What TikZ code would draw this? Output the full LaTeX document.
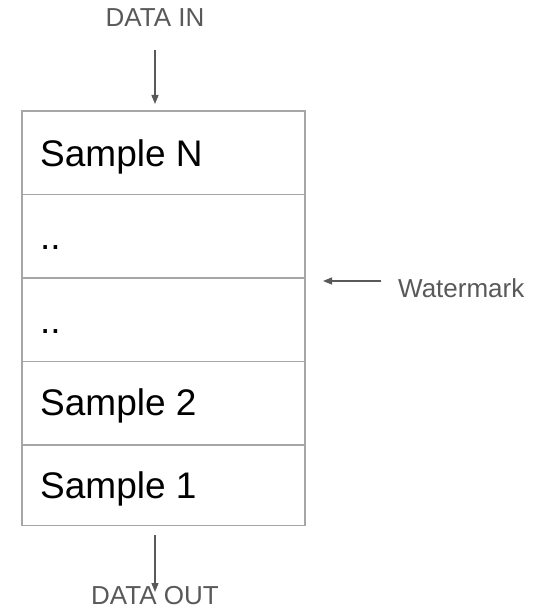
\documentclass[tikz,border=0pt]{standalone}
\usepackage{fontspec}
\setmainfont{Liberation Sans}
\usetikzlibrary{arrows.meta}
\definecolor{boxline}{HTML}{A6A6A6}
\definecolor{txtgray}{HTML}{595959}
\tikzset{
  cell/.style={draw=boxline, line width=1.5pt, minimum width=283pt, minimum height=83.5pt, inner sep=0pt},
  celltext/.style={anchor=base west, inner sep=0pt, font=\fontsize{37}{40}\selectfont, text=black},
  labeltext/.style={anchor=base, inner sep=0pt, font=\fontsize{26}{28}\selectfont, text=txtgray},
  arr/.style={draw=txtgray, line width=1.3pt, -{Triangle[length=9pt,width=7pt]}}
}
\begin{document}
\begin{tikzpicture}[x=1pt,y=-1pt]
\useasboundingbox (0,0) rectangle (544,607);
\node[cell] (r1) at (163.5,152.75) {};
\node[cell] (r2) at (163.5,236.25) {};
\node[cell] (r3) at (163.5,319.75) {};
\node[cell] (r4) at (163.5,403.25) {};
\node[cell, minimum height=80.5pt] (r5) at (163.5,485.25) {};
\node[celltext] (t1) at (40,166) {Sample N};
\node[celltext] (t2) at (40,249) {..};
\node[celltext] (t3) at (40,333) {..};
\node[celltext] (t4) at (40,415) {Sample 2};
\node[celltext] (t5) at (40,498) {Sample 1};
\node[labeltext] (din) at (155,27) {DATA IN};
\node[labeltext, anchor=base west] (wm) at (398,297) {Watermark};
\node[labeltext] (dout) at (155,604) {DATA OUT};
\coordinate (inS) at (155,50);
\coordinate (inE) at (155,104);
\coordinate (wmS) at (381,281);
\coordinate (wmE) at (323,281);
\coordinate (outS) at (155,535);
\coordinate (outE) at (155,592);
\draw[arr] (inS) -- (inE);
\draw[arr] (wmS) -- (wmE);
\draw[arr] (outS) -- (outE);
\end{tikzpicture}
\end{document}
